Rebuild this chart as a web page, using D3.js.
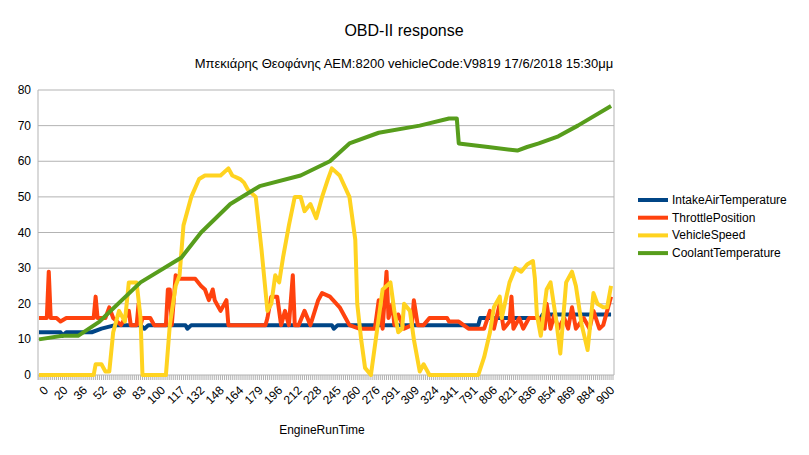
<!DOCTYPE html>
<html>
<head>
<meta charset="UTF-8">
<title>OBD-II response</title>
<style>
body { margin: 0; background: #fff; }
text { font-family: "Liberation Sans", Arial, sans-serif; }
</style>
</head>
<body>
<script src="https://cdn.jsdelivr.net/npm/d3@7"></script>
<script>
// tick labels of the category axis (one every 10 samples)
var tickLabels = [0,20,36,52,68,83,100,117,132,148,164,179,196,212,228,245,260,276,291,309,324,341,791,806,821,836,854,869,884,900];
var sampleCount = 295;

// [sample index, value]
var intakeAir = [[0,12],[11,12],[12,11],[14,12],[27,12],[32,13],[39,14],[52,14],[54,13],[56,14],[62,14],[75,14],[76,13],[78,14],[150,14],[151,13],[153,14],[225,14],[226,16],[257,16],[258,17],[293,17]];
var throttle = [[0,16],[4,16],[5,29],[6,16],[9,16],[11,15],[14,16],[21,16],[28,16],[29,22],[30,16],[34,16],[36,19],[38,16],[42,14],[46,18],[47,14],[50,14],[51,20],[52,14],[53,16],[57,16],[59,14],[65,14],[66,24],[67,24],[68,14],[70,28],[72,27],[75,27],[80,27],[83,25],[85,24],[87,21],[89,24],[90,21],[93,18],[96,21],[97,14],[103,14],[108,14],[116,14],[117,16],[119,22],[122,22],[124,14],[126,18],[128,14],[130,28],[131,14],[133,14],[136,18],[139,14],[143,21],[145,23],[149,22],[154,19],[157,16],[159,14],[164,13],[172,13],[174,21],[176,13],[178,29],[179,16],[181,20],[182,14],[184,17],[187,13],[191,14],[192,21],[194,14],[197,14],[200,16],[205,16],[209,16],[210,15],[215,15],[220,13],[228,13],[231,18],[233,13],[236,20],[238,13],[241,15],[242,22],[243,13],[246,16],[248,13],[251,16],[256,16],[259,13],[260,20],[262,13],[264,17],[266,13],[269,16],[271,13],[273,19],[275,13],[279,16],[282,13],[284,18],[287,13],[289,14],[293,22]];
var vehicleSpeed = [[0,0],[28,0],[29,3],[32,3],[34,1],[36,1],[38,12],[41,18],[44,15],[46,26],[50,26],[52,16],[53,0],[65,0],[67,14],[70,25],[72,28],[74,42],[78,50],[82,55],[85,56],[93,56],[97,58],[99,56],[103,55],[105,54],[107,52],[111,50],[114,35],[117,18],[119,20],[121,28],[123,26],[125,33],[128,42],[131,50],[134,50],[136,46],[139,48],[142,44],[145,50],[148,55],[150,58],[154,56],[159,50],[162,38],[163,20],[165,10],[167,2],[170,0],[173,12],[176,24],[180,26],[182,18],[184,12],[186,13],[187,20],[190,18],[192,10],[195,1],[197,3],[200,0],[225,0],[228,5],[231,12],[233,19],[236,22],[237,16],[241,26],[244,30],[247,29],[250,31],[253,32],[254,27],[255,17],[257,11],[260,24],[262,26],[265,15],[267,6],[270,26],[273,29],[275,25],[278,14],[281,7],[284,23],[286,20],[289,19],[291,19],[293,25]];
var coolant = [[0,10],[12,11],[20,11],[31,15],[52,26],[73,33],[83,40],[98,48],[113,53],[134,56],[149,60],[159,65],[174,68],[195,70],[210,72],[214,72],[215,65],[230,64],[245,63],[250,64],[256,65],[266,67],[276,70],[293,75.5]];

var seriesNames = ["IntakeAirTemperature","ThrottlePosition","VehicleSpeed","CoolantTemperature"];
var seriesData = [intakeAir, throttle, vehicleSpeed, coolant];
var colors = ["#004586","#ff420e","#ffd320","#579d1c"];
var yTicks = [0,10,20,30,40,50,60,70,80];

var W = 809, H = 455;
var m = {left: 38, right: 614, top: 90, bottom: 375};
var svg = d3.select("body").append("svg").attr("width", W).attr("height", H);

var x = d3.scaleLinear().domain([0, sampleCount - 1]).range([m.left + 1, m.right - 1]);
var y = d3.scaleLinear().domain([0, 80]).range([m.bottom, m.top]);

// grid
svg.append("g").selectAll("line").data(yTicks).join("line")
  .attr("x1", m.left).attr("x2", m.right)
  .attr("y1", d => y(d)).attr("y2", d => y(d))
  .attr("stroke", "#b3b3b3").attr("stroke-width", 1);
svg.append("line").attr("x1", m.left).attr("x2", m.left).attr("y1", m.top).attr("y2", m.bottom + 5).attr("stroke", "#b3b3b3");
svg.append("line").attr("x1", m.right).attr("x2", m.right).attr("y1", m.top).attr("y2", m.bottom).attr("stroke", "#b3b3b3");

// y labels
svg.append("g").selectAll("text").data(yTicks).join("text")
  .attr("x", m.left - 7).attr("y", d => y(d) + 4)
  .attr("text-anchor", "end").attr("font-size", 12).attr("fill", "#000")
  .text(d => d);

// minor ticks, one per sample
svg.append("g").selectAll("line").data(d3.range(sampleCount)).join("line")
  .attr("x1", d => x(d)).attr("x2", d => x(d))
  .attr("y1", m.bottom).attr("y2", m.bottom + 5)
  .attr("stroke", "#b3b3b3");

// x labels
svg.append("g").selectAll("text").data(tickLabels).join("text")
  .attr("transform", (d, i) => "translate(" + (x(i * 10) + 4) + "," + (m.bottom + 10) + ") rotate(-45)")
  .attr("text-anchor", "end").attr("dy", "0.7em").attr("font-size", 12)
  .text(d => d);

// series
var line = d3.line().x(d => x(d[0])).y(d => y(d[1]));
seriesData.forEach(function(s, i) {
  svg.append("path").datum(s).attr("d", line)
    .attr("fill", "none").attr("stroke", colors[i]).attr("stroke-width", 4)
    .attr("stroke-linejoin", "round");
});

// titles
svg.append("text").attr("x", 404).attr("y", 36).attr("text-anchor", "middle").attr("font-size", 16).text("OBD-II response");
svg.append("text").attr("x", 404).attr("y", 68).attr("text-anchor", "middle").attr("font-size", 13).text("Μπεκιάρης Θεοφάνης ΑΕΜ:8200 vehicleCode:V9819 17/6/2018 15:30μμ");
svg.append("text").attr("x", 322).attr("y", 434).attr("text-anchor", "middle").attr("font-size", 12).text("EngineRunTime");

// legend
var lg = svg.append("g").selectAll("g").data(seriesNames).join("g")
  .attr("transform", (d, i) => "translate(638," + (200 + i * 17.7) + ")");
lg.append("line").attr("x1", 0).attr("x2", 30).attr("stroke", (d, i) => colors[i]).attr("stroke-width", 4);
lg.append("text").attr("x", 34).attr("y", 4).attr("font-size", 12).text(d => d);
</script>
</body>
</html>
